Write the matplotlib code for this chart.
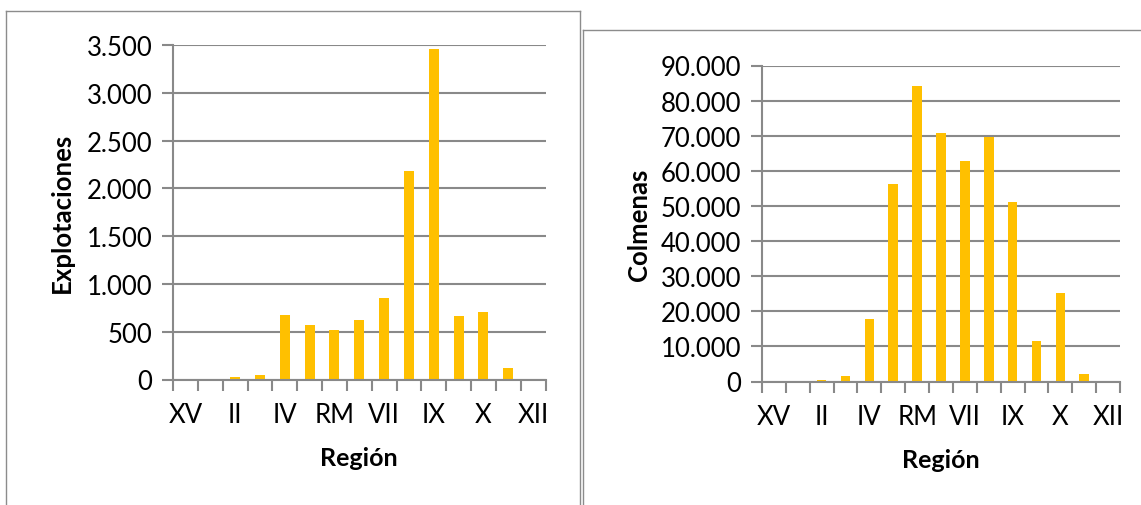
import matplotlib
matplotlib.use("Agg")
import matplotlib.pyplot as plt
from matplotlib.lines import Line2D
from matplotlib.ticker import FuncFormatter

plt.rcParams['font.family'] = ['Lato', 'DejaVu Sans']

regiones = ["XV", "I", "II", "III", "IV", "V", "RM", "VI", "VII", "VIII",
            "IX", "XIV", "X", "XI", "XII"]
explotaciones = [0, 0, 31, 48, 680, 573, 513, 622, 848, 2184,
                 3458, 660, 706, 120, 0]
colmenas = [0, 0, 370, 1510, 17930, 56340, 84110, 70850, 62770, 69600,
            51100, 11670, 25320, 2270, 0]

W, H = 1141, 506
fig = plt.figure(figsize=(W / 100, H / 100), dpi=100)

gold = "#FFC000"
grey = "#898989"


def miles(v, pos):
    return f"{int(v):,}".replace(",", ".")


def panel(rect, valores, ymax, paso, ylabel, ylab_x):
    ax = fig.add_axes(rect)
    x = list(range(len(regiones)))
    ax.bar(x, valores, width=0.4, color=gold, zorder=3)
    ax.set_xlim(-0.5, len(regiones) - 0.5)
    ax.set_ylim(0, ymax)
    ax.set_yticks(range(0, ymax + 1, paso))
    ax.yaxis.set_major_formatter(FuncFormatter(miles))
    ax.grid(axis="y", color=grey, lw=1.5, zorder=0)
    for s in ["top", "right"]:
        ax.spines[s].set_visible(False)
    for s in ["left", "bottom"]:
        ax.spines[s].set_color(grey)
        ax.spines[s].set_linewidth(1.5)
    ax.spines["bottom"].set_zorder(4)
    # tick marks at category borders, labels every other category
    ax.set_xticks([i - 0.5 for i in range(len(regiones) + 1)])
    ax.set_xticklabels([])
    ax.set_xticks(x[::2], minor=True)
    ax.set_xticklabels(regiones[::2], minor=True, fontsize=18.5)
    ax.tick_params(axis="x", which="major", length=8, width=1.5, color=grey)
    ax.tick_params(axis="x", which="minor", length=0, pad=16)
    ax.tick_params(axis="y", length=8, width=1.5, color=grey, labelsize=18.5, pad=7)
    ax.set_xlabel("Región", fontsize=18, fontweight="bold", labelpad=14)
    ax.set_ylabel(ylabel, fontsize=18.5, fontweight="bold")
    ax.yaxis.set_label_coords(ylab_x, 0.5)
    return ax


panel([173 / W, 1 - 380.5 / H, 372.5 / W, 334.5 / H], explotaciones,
      3500, 500, "Explotaciones", -0.266)
panel([762 / W, 1 - 382.5 / H, 358 / W, 316 / H], colmenas,
      90000, 10000, "Colmenas", -0.31)

# chart borders
def linea(x0, y0, x1, y1):
    fig.add_artist(Line2D([x0 / W, x1 / W], [1 - y0 / H, 1 - y1 / H],
                          color="#8c8c8c", lw=1))

linea(6, 12, 580, 12)
linea(6, 12, 6, H)
linea(580, 12, 580, H)
linea(583, 31, W, 31)
linea(583, 31, 583, H)

fig.savefig("out.png", dpi=100)
